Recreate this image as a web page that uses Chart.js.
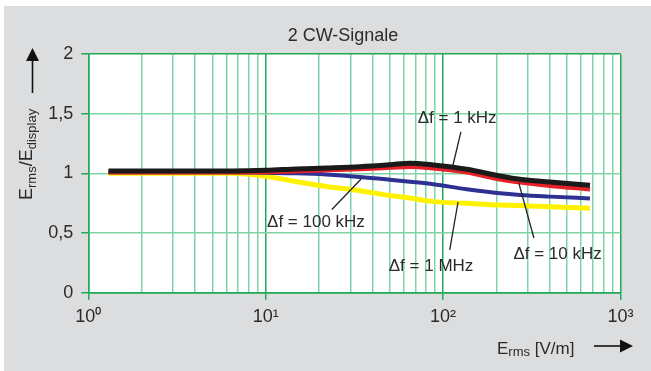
<!DOCTYPE html>
<html>
<head>
<meta charset="utf-8">
<script src="https://cdn.jsdelivr.net/npm/chart.js@4.4.1/dist/chart.umd.min.js"></script>
<style>
	html, body { margin: 0; padding: 0; background: #fff; }
	#wrap { width: 651px; height: 371px; position: relative; }
</style>
</head>
<body>
<div id="wrap"><canvas id="line-chartcanvas"></canvas></div>
<script>
// E_rms in V/m (x values shared by all curves)
var erms = [1.3, 2, 4, 6.5, 10, 15, 22, 34, 50, 65, 88, 136, 209, 271, 400, 673];

// E_rms / E_display for each frequency spacing
var df1kHz   = [1.02, 1.02, 1.02, 1.02, 1.025, 1.037, 1.045, 1.056, 1.072, 1.085, 1.07, 1.034, 0.978, 0.95, 0.928, 0.90];
var df10kHz  = [1.01, 1.01, 1.01, 1.01, 1.012, 1.02, 1.028, 1.037, 1.048, 1.056, 1.043, 1.009, 0.95, 0.925, 0.897, 0.867];
var df100kHz = [1.01, 1.01, 1.01, 1.01, 1.005, 1.0, 0.99, 0.97, 0.947, 0.93, 0.909, 0.867, 0.833, 0.819, 0.805, 0.79];
var df1MHz   = [1.0, 1.0, 1.0, 1.0, 0.975, 0.93, 0.89, 0.855, 0.815, 0.793, 0.763, 0.749, 0.735, 0.73, 0.72, 0.708];

// axis ticks
var xTickLabels = { 1: "10\u2070", 10: "10\u00b9", 100: "10\u00b2", 1000: "10\u00b3" };
var yTicks = [0, 0.5, 1, 1.5, 2];

// label text and where it sits (data coords): text anchor, leader start, leader end
var annoText = ["\u0394f = 1 kHz", "\u0394f = 10 kHz", "\u0394f = 100 kHz", "\u0394f = 1 MHz"];
var annoAt   = [[120, 1.42], [442, 0.28], [19.2, 0.548], [85.5, 0.184]];
var annoFrom = [[126, 1.347], [325, 0.458], [23.6, 0.697], [109, 0.358]];
var annoTo   = [[113.7, 1.07], [267, 0.92], [34.5, 0.953], [121.4, 0.76]];

var FONT = "'Liberation Sans', Arial, Helvetica, sans-serif";
var TXT = "#2b2b2b";
var GREEN_DARK = "#1faa55";
var GREEN_LIGHT = "#80d4a6";

// grid positions on the log axis: 1..9, 10..90, 100..1000
var xGrid = [];
for (var p = 1; p <= 100; p *= 10) {
	for (var k = 1; k <= 9; k++) xGrid.push(k * p);
}
xGrid.push(1000);

function pts(arr) {
	var out = [];
	for (var i = 0; i < erms.length; i++) out.push({ x: erms[i], y: arr[i] });
	return out;
}

// draw text made of parts with different sizes (for subscripts)
function richText(ctx, parts, x, y, align) {
	var w = 0;
	for (var i = 0; i < parts.length; i++) {
		ctx.font = parts[i].s + "px " + FONT;
		parts[i].w = ctx.measureText(parts[i].t).width;
		w += parts[i].w;
	}
	var cx = align === "center" ? x - w / 2 : x;
	ctx.textAlign = "left";
	ctx.textBaseline = "alphabetic";
	for (var j = 0; j < parts.length; j++) {
		ctx.font = parts[j].s + "px " + FONT;
		ctx.fillText(parts[j].t, cx, y + (parts[j].dy || 0));
		cx += parts[j].w;
	}
}

function arrow(ctx, x1, y1, x2, y2) {
	var a = Math.atan2(y2 - y1, x2 - x1);
	var hl = 13, hw = 6.5;
	var bx = x2 - hl * Math.cos(a), by = y2 - hl * Math.sin(a);
	ctx.strokeStyle = "#111";
	ctx.fillStyle = "#111";
	ctx.lineWidth = 1.6;
	ctx.beginPath();
	ctx.moveTo(x1, y1);
	ctx.lineTo(bx, by);
	ctx.stroke();
	ctx.beginPath();
	ctx.moveTo(x2, y2);
	ctx.lineTo(bx + hw * Math.sin(a), by - hw * Math.cos(a));
	ctx.lineTo(bx - hw * Math.sin(a), by + hw * Math.cos(a));
	ctx.closePath();
	ctx.fill();
}

var bgPlugin = {
	id: "bg",
	beforeDraw: function(chart) {
		var ctx = chart.ctx, a = chart.chartArea;
		ctx.save();
		ctx.fillStyle = "#ffffff";
		ctx.fillRect(0, 0, chart.width, chart.height);
		ctx.fillStyle = "#dcdddf";
		ctx.fillRect(4, 6, chart.width - 4, chart.height - 6);
		ctx.fillStyle = "#ffffff";
		ctx.fillRect(a.left, a.top, a.right - a.left, a.bottom - a.top);
		ctx.restore();
	}
};

var textPlugin = {
	id: "texts",
	afterDraw: function(chart) {
		var ctx = chart.ctx;
		var xs = chart.scales.x, ys = chart.scales.y;
		ctx.save();
		ctx.fillStyle = TXT;

		// title
		richText(ctx, [{ t: "2 CW-Signale", s: 18 }], 343, 41, "center");

		// y axis title, rotated
		ctx.save();
		ctx.translate(32, 200);
		ctx.rotate(-Math.PI / 2);
		ctx.fillStyle = TXT;
		richText(ctx, [
			{ t: "E", s: 18 }, { t: "rms", s: 13, dy: 4 },
			{ t: "/E", s: 18 }, { t: "display", s: 13, dy: 4 }
		], 0, 0, "left");
		ctx.restore();
		arrow(ctx, 32.5, 93, 32.5, 48);

		// x axis title
		ctx.fillStyle = TXT;
		richText(ctx, [
			{ t: "E", s: 17 }, { t: "rms", s: 13, dy: 2 }, { t: " [V/m]", s: 17 }
		], 497, 354, "left");
		arrow(ctx, 594, 346, 633, 346);

		// curve labels with leader lines
		ctx.strokeStyle = "#222";
		ctx.lineWidth = 1.3;
		for (var i = 0; i < annoText.length; i++) {
			ctx.beginPath();
			ctx.moveTo(xs.getPixelForValue(annoFrom[i][0]), ys.getPixelForValue(annoFrom[i][1]));
			ctx.lineTo(xs.getPixelForValue(annoTo[i][0]), ys.getPixelForValue(annoTo[i][1]));
			ctx.stroke();
			ctx.fillStyle = TXT;
			richText(ctx, [{ t: annoText[i], s: 17 }],
				xs.getPixelForValue(annoAt[i][0]), ys.getPixelForValue(annoAt[i][1]), "center");
		}
		ctx.restore();
	}
};

var ctx = document.getElementById("line-chartcanvas");

var data = {
	datasets: [
		{ label: "\u0394f = 1 kHz", data: pts(df1kHz), borderColor: "#1a1a1a", borderWidth: 5 },
		{ label: "\u0394f = 10 kHz", data: pts(df10kHz), borderColor: "#e8202a", borderWidth: 4.5 },
		{ label: "\u0394f = 100 kHz", data: pts(df100kHz), borderColor: "#2e3192", borderWidth: 4 },
		{ label: "\u0394f = 1 MHz", data: pts(df1MHz), borderColor: "#fff200", borderWidth: 5 }
	]
};

var options = {
	responsive: true,
	maintainAspectRatio: false,
	animation: false,
	layout: { padding: { top: 54, right: 30.5, bottom: 0, left: 0 } },
	elements: {
		point: { radius: 0 },
		line: { cubicInterpolationMode: "monotone", fill: false, borderCapStyle: "butt" }
	},
	plugins: {
		legend: { display: false },
		title: { display: false },
		tooltip: { enabled: false }
	},
	scales: {
		x: {
			type: "logarithmic",
			min: 1,
			max: 1000,
			afterBuildTicks: function(scale) {
				scale.ticks = xGrid.map(function(v) {
					return { value: v, major: xTickLabels[v] !== undefined };
				});
			},
			afterFit: function(scale) { scale.height = 78.3; },
			ticks: {
				autoSkip: false,
				maxRotation: 0,
				padding: 7,
				color: TXT,
				font: { family: FONT, size: 18 },
				callback: function(value) { return xTickLabels[value] || ""; }
			},
			grid: {
				lineWidth: 1.5,
				tickLength: 7,
				color: function(c) { return c.tick && xTickLabels[c.tick.value] ? GREEN_DARK : GREEN_LIGHT; },
				tickColor: function(c) { return c.tick && xTickLabels[c.tick.value] ? GREEN_DARK : "rgba(0,0,0,0)"; }
			},
			border: { color: GREEN_DARK, width: 1.5 }
		},
		y: {
			min: 0,
			max: 2,
			afterBuildTicks: function(scale) {
				scale.ticks = yTicks.map(function(v) { return { value: v }; });
			},
			afterFit: function(scale) { scale.width = 88.3; },
			ticks: {
				padding: 8,
				color: TXT,
				font: { family: FONT, size: 18 },
				callback: function(value) { return String(value).replace(".", ","); }
			},
			grid: {
				lineWidth: 1.5,
				tickLength: 7,
				color: function(c) { return c.tick && (c.tick.value === 0 || c.tick.value === 2) ? GREEN_DARK : GREEN_LIGHT; },
				tickColor: GREEN_DARK
			},
			border: { color: GREEN_DARK, width: 1.5 }
		}
	}
};

var chart = new Chart(ctx, {
	type: "line",
	data: data,
	options: options,
	plugins: [bgPlugin, textPlugin]
});
</script>
</body>
</html>
